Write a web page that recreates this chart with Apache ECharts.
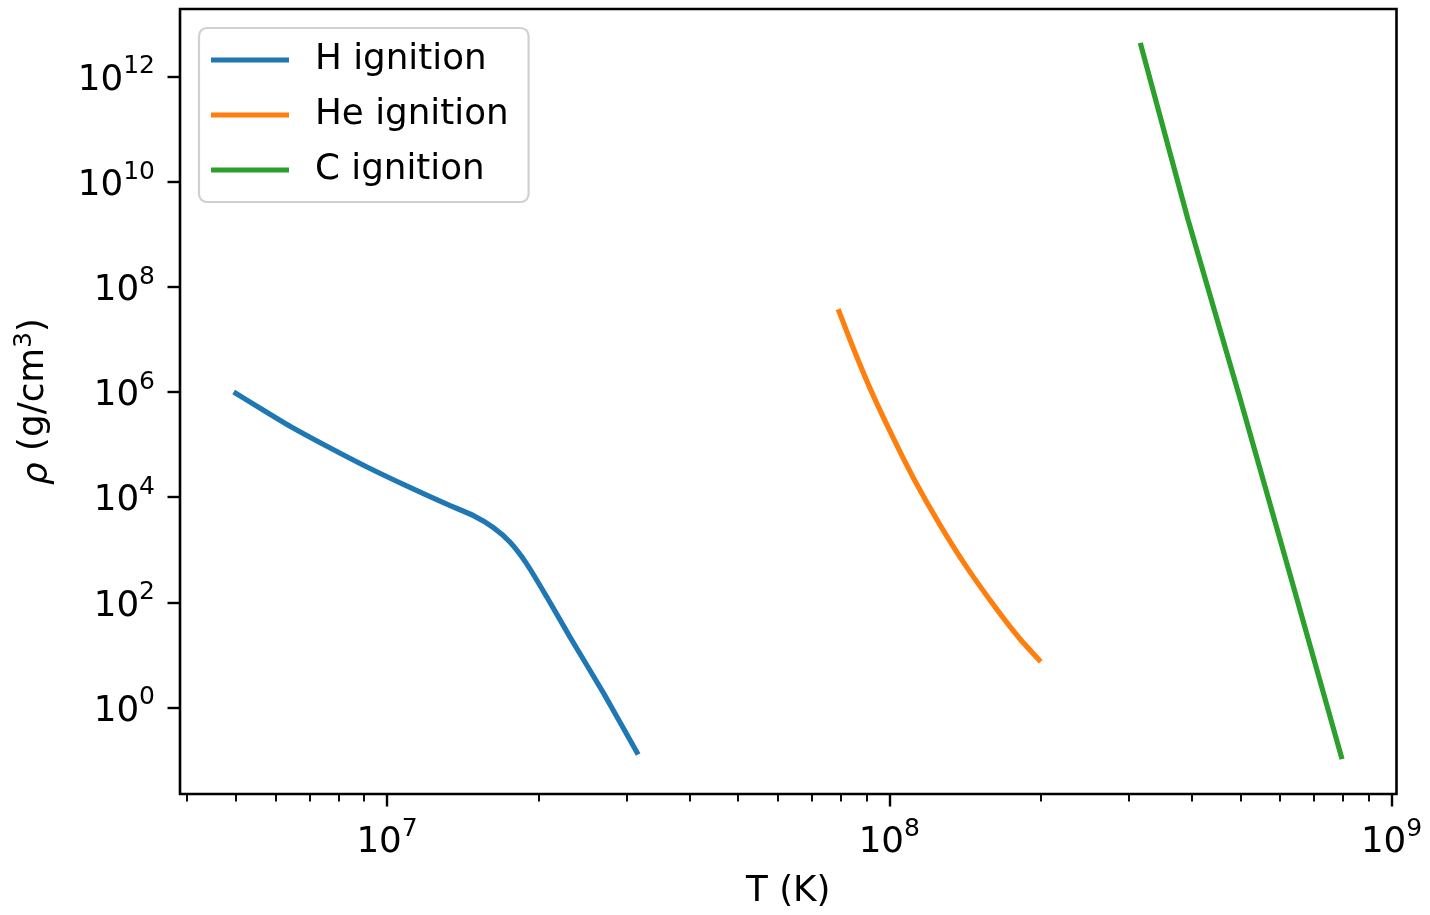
<!DOCTYPE html>
<html>
<head>
<meta charset="utf-8">
<title>Ignition curves</title>
<script src="https://cdn.jsdelivr.net/npm/echarts@6/dist/echarts.min.js"></script>
<style>
  html, body { margin: 0; padding: 0; background: #ffffff; }
  #chart { width: 1430px; height: 915px; }
</style>
</head>
<body>
<div id="chart"></div>
<script>
// Ignition curves in the temperature-density plane (T in K, rho in g/cm^3)
const seriesNames = ['H ignition', 'He ignition', 'C ignition'];
const seriesColors = ['#1f77b4', '#ff7f0e', '#2ca02c'];

const T_H   = [4.95e6, 5.58e6, 6.41e6, 7.69e6, 9.10e6, 1.094e7, 1.315e7, 1.486e7, 1.626e7, 1.758e7, 1.897e7, 2.080e7, 2.312e7, 2.698e7, 3.162e7];
const RHO_H = [9.93e5, 4.94e5, 2.23e5, 8.67e4, 3.78e4, 1.63e4, 7.33e3, 4.43e3, 2.65e3, 1.38e3, 537, 126, 22.0, 1.87, 0.127];

const T_He   = [7.91e7, 8.48e7, 9.15e7, 1.003e8, 1.116e8, 1.259e8, 1.426e8, 1.636e8, 1.821e8, 2.002e8];
const RHO_He = [3.74e7, 6.75e6, 1.18e6, 1.79e5, 2.34e4, 3.07e3, 465, 74.0, 20.0, 7.41];

const T_C   = [3.16e8, 3.93e8, 4.99e8, 6.34e8, 7.97e8];
const RHO_C = [4.34e12, 1.94e9, 7.64e5, 242, 0.104];

// Axis ranges and ticks, as powers of ten
const X_RANGE = [3.87e6, 1.023e9];
const Y_RANGE = [0.0226, 1.91e13];
const X_MAJOR_EXP = [7, 8, 9];
const Y_MAJOR_EXP = [0, 2, 4, 6, 8, 10, 12];
const MINOR_MULTIPLIERS = [2, 3, 4, 5, 6, 7, 8, 9];

const lg = Math.log10;
const toPairs = (xs, ys) => xs.map((x, i) => [lg(x), lg(ys[i])]);

const xMin = lg(X_RANGE[0]), xMax = lg(X_RANGE[1]);
const yMin = lg(Y_RANGE[0]), yMax = lg(Y_RANGE[1]);

// Minor tick positions: k * 10^n inside the x range
const xMinor = [];
for (let n = 6; n <= 9; n++) {
  MINOR_MULTIPLIERS.forEach(k => {
    const v = lg(k) + n;
    if (v > xMin && v < xMax) xMinor.push(v);
  });
}

const FONT = 'DejaVu Sans';
const FS = 35.7;
const powRich = {
  b: { fontFamily: FONT, fontSize: FS, color: '#000', lineHeight: 44, verticalAlign: 'bottom' },
  e: { fontFamily: FONT, fontSize: 25, color: '#000', lineHeight: 28, verticalAlign: 'top' }
};
const powLabel = v => '{b|10}{e|' + Math.round(v) + '}';

const chart = echarts.init(document.getElementById('chart'), null, { renderer: 'canvas' });

chart.setOption({
  animation: false,
  backgroundColor: '#ffffff',
  grid: {
    left: 180, right: 33.5, top: 9, bottom: 117,
    show: true, borderColor: '#000', borderWidth: 2.6, backgroundColor: 'transparent'
  },
  legend: {
    left: 199, top: 28,
    orient: 'vertical',
    data: seriesNames,
    icon: 'rect',
    itemWidth: 78, itemHeight: 5, itemGap: 15,
    padding: [12, 20, 12, 12],
    backgroundColor: '#ffffff',
    borderColor: '#d0d0d0', borderWidth: 2.2, borderRadius: 8,
    textStyle: { fontFamily: FONT, fontSize: FS, color: '#000', lineHeight: 40, padding: [0, 0, 0, 21] }
  },
  xAxis: [
    {
      type: 'value', min: xMin, max: xMax,
      name: 'T (K)', nameLocation: 'middle', nameGap: 80,
      nameTextStyle: { fontFamily: FONT, fontSize: FS, color: '#000' },
      axisLine: { show: false, onZero: false },
      splitLine: { show: false },
      axisTick: { show: true, customValues: X_MAJOR_EXP, length: 12.5, lineStyle: { color: '#000', width: 2.4 } },
      axisLabel: { customValues: X_MAJOR_EXP, margin: 23, formatter: powLabel, rich: powRich }
    },
    {
      type: 'value', min: xMin, max: xMax, position: 'bottom',
      axisLine: { show: false, onZero: false },
      splitLine: { show: false },
      axisLabel: { show: false },
      axisTick: { show: true, customValues: xMinor, length: 7.5, lineStyle: { color: '#000', width: 1.9 } }
    }
  ],
  yAxis: {
    type: 'value', min: yMin, max: yMax,
    name: '{i|ρ} (g/cm{s|3})', nameLocation: 'middle', nameGap: 124, nameRotate: 90,
    nameTextStyle: {
      fontFamily: FONT, fontSize: FS, color: '#000',
      rich: {
        i: { fontFamily: FONT, fontSize: FS, fontStyle: 'italic', color: '#000', lineHeight: 44, verticalAlign: 'bottom' },
        s: { fontFamily: FONT, fontSize: 25, color: '#000', lineHeight: 28, verticalAlign: 'top' }
      }
    },
    axisLine: { show: false, onZero: false },
    splitLine: { show: false },
    axisTick: { show: true, customValues: Y_MAJOR_EXP, length: 12.5, lineStyle: { color: '#000', width: 2.4 } },
    axisLabel: { customValues: Y_MAJOR_EXP, margin: 25, formatter: powLabel, rich: powRich }
  },
  series: [
    { name: seriesNames[0], type: 'line', data: toPairs(T_H, RHO_H), smooth: 0.2 },
    { name: seriesNames[1], type: 'line', data: toPairs(T_He, RHO_He), smooth: 0.2 },
    { name: seriesNames[2], type: 'line', data: toPairs(T_C, RHO_C), smooth: false }
  ].map((s, i) => Object.assign(s, {
    xAxisIndex: 0, yAxisIndex: 0,
    symbol: 'none', showSymbol: false,
    color: seriesColors[i],
    lineStyle: { color: seriesColors[i], width: 5.2, cap: 'butt' }
  }))
});
</script>
</body>
</html>
